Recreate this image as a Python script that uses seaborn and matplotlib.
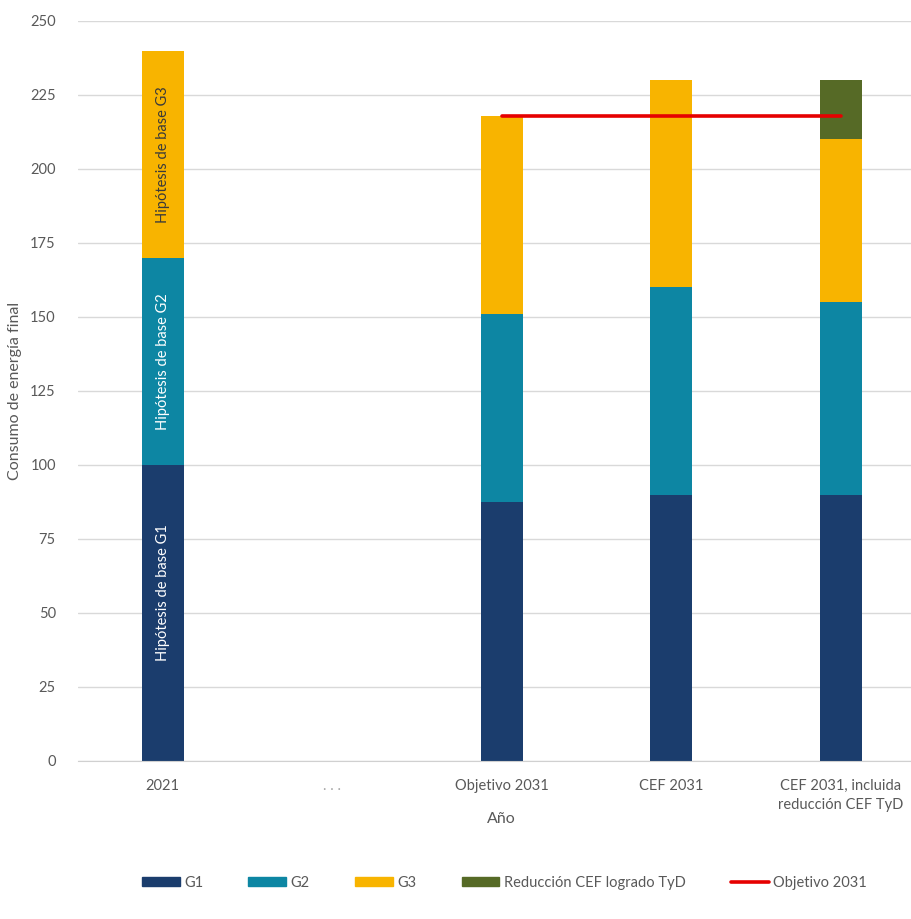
import numpy as np
import seaborn as sns
import matplotlib.pyplot as plt
from matplotlib.patches import Patch
from matplotlib.lines import Line2D

categorias = ["2021", ". . .", "Objetivo 2031", "CEF 2031", "CEF 2031, incluida\nreducción CEF TyD"]
g1 = [100, 0, 87.5, 90, 90]
g2 = [70, 0, 63.5, 70, 65]
g3 = [70, 0, 67, 70, 55]
reduccion = [0, 0, 0, 0, 20]
objetivo_2031 = 218

col_g1 = "#1b3d6d"
col_g2 = "#0d86a3"
col_g3 = "#f8b400"
col_red = "#566a26"
col_obj = "#e60000"

sns.set_style("white")
plt.rcParams['font.family'] = ['Lato', 'DejaVu Sans']

fig = plt.figure(figsize=(9.12, 9.19), dpi=100)
ax = fig.add_axes([78 / 912, 1 - 761 / 919, 847.5 / 912, 740 / 919])

# stacked bars: draw cumulative totals from top layer to bottom
c1 = np.array(g1, dtype=float)
c2 = c1 + np.array(g2)
c3 = c2 + np.array(g3)
c4 = c3 + np.array(reduccion)
for vals, col in [(c4, col_red), (c3, col_g3), (c2, col_g2), (c1, col_g1)]:
    sns.barplot(x=categorias, y=vals, order=categorias, color=col, saturation=1,
                width=0.25, errorbar=None, linewidth=0, ax=ax)

# objetivo line
i0 = categorias.index("Objetivo 2031")
i1 = len(categorias) - 1
ax.plot([i0, i1], [objetivo_2031, objetivo_2031], color=col_obj, lw=2.6,
        solid_capstyle="round", zorder=5)

# labels inside the 2021 bar
ax.text(0, 57, "Hipótesis de base G1", rotation=90, ha="center", va="center",
        color="white", fontsize=10.5)
ax.text(0, 135, "Hipótesis de base G2", rotation=90, ha="center", va="center",
        color="white", fontsize=10.5)
ax.text(0, 205, "Hipótesis de base G3", rotation=90, ha="center", va="center",
        color="#3a3a3a", fontsize=10.5)

ax.set_xlim(-0.5, len(categorias) - 0.5)
ax.set_ylim(0, 250)
ax.set_yticks(range(0, 251, 25))
ax.yaxis.grid(True, color="#d9d9d9", lw=1)
ax.set_axisbelow(True)
for s in ["top", "right", "left"]:
    ax.spines[s].set_visible(False)
ax.spines["bottom"].set_color("#d0d0d0")
ax.tick_params(axis="both", length=0, labelsize=10.5, colors="#595959")
ax.tick_params(axis="x", pad=13)
ax.tick_params(axis="y", pad=16)
for lab in ax.get_xticklabels():
    lab.set_linespacing(1.45)
    if lab.get_text() == ". . .":
        lab.set_color("#a6a6a6")
ax.set_ylabel("Consumo de energía final", fontsize=11.5, color="#595959", labelpad=6)
ax.set_xlabel("Año", fontsize=11.5, color="#595959", labelpad=0)

handles = [
    Patch(color=col_g1, label="G1"),
    Patch(color=col_g2, label="G2"),
    Patch(color=col_g3, label="G3"),
    Patch(color=col_red, label="Reducción CEF logrado TyD"),
    Line2D([0], [0], color=col_obj, lw=2.6, label="Objetivo 2031"),
]
leg = fig.legend(handles=handles, loc="center", bbox_to_anchor=(0.553, 1 - 883 / 919),
                 ncol=5, frameon=False, fontsize=10.5, handlelength=2.6, handleheight=0.6,
                 columnspacing=3.1, handletextpad=0.3)
for t in leg.get_texts():
    t.set_color("#595959")

fig.savefig("out.png", dpi=100)
